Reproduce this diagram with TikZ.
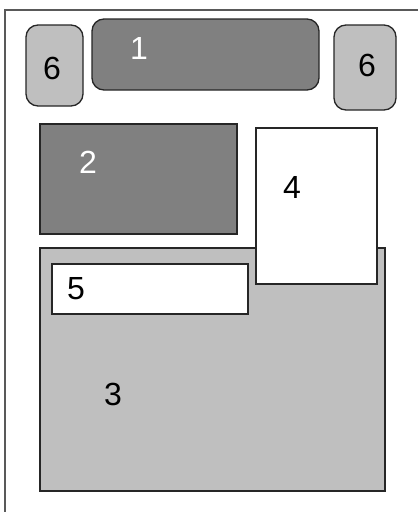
\documentclass[tikz,border=0pt]{standalone}
\usepackage{fontspec}
\setmainfont{Liberation Sans}
\begin{document}
\begin{tikzpicture}[x=1pt,y=-1pt,
  box/.style={draw=black!85,line width=1.3pt,inner sep=0pt,outer sep=0pt},
  rbox/.style={box,rounded corners=12pt},
  lbl/.style={font=\fontsize{32}{32}\selectfont,inner sep=0pt},
  dark/.style={fill=black!50},
  light/.style={fill=black!25}]
\useasboundingbox (0,0) rectangle (418,512);
\fill[white] (0,0) rectangle (418,512);
\draw[black!65,line width=2pt] (5,10) rectangle (440,540);
% top row
\node[rbox,light,minimum width=57pt,minimum height=81pt] (s6l) at (54.5,65.5) {};
\node[rbox,dark,minimum width=227pt,minimum height=71pt] (s1) at (205.5,54.5) {};
\node[rbox,light,minimum width=62pt,minimum height=85pt] (s6r) at (365,67.5) {};
\node[lbl] (t6l) at (52,68) {6};
\node[lbl,text=white] (t1) at (139,48) {1};
\node[lbl] (t6r) at (367,65) {6};
% middle
\node[box,dark,minimum width=197pt,minimum height=110pt] (s2) at (138.5,179) {};
\node[lbl,text=white] (t2) at (88,162) {2};
% big box
\node[box,light,minimum width=345pt,minimum height=243pt] (s3) at (212.5,369.5) {};
\node[box,fill=white,minimum width=196pt,minimum height=50pt] (s5) at (150,289) {};
\node[box,fill=white,minimum width=121pt,minimum height=156pt] (s4) at (316.5,206) {};
\node[lbl] (t3) at (113,394) {3};
\node[lbl] (t5) at (76,289) {5};
\node[lbl] (t4) at (292,187) {4};
\end{tikzpicture}
\end{document}
